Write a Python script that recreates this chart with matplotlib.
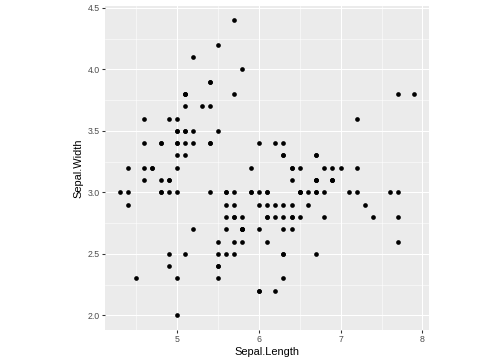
import numpy as np
import matplotlib
matplotlib.use("Agg")
import matplotlib.pyplot as plt
from matplotlib.ticker import MultipleLocator, FixedLocator

# iris: Sepal.Length / Sepal.Width
sepal_length = [
    5.1, 4.9, 4.7, 4.6, 5.0, 5.4, 4.6, 5.0, 4.4, 4.9,
    5.4, 4.8, 4.8, 4.3, 5.8, 5.7, 5.4, 5.1, 5.7, 5.1,
    5.4, 5.1, 4.6, 5.1, 4.8, 5.0, 5.0, 5.2, 5.2, 4.7,
    4.8, 5.4, 5.2, 5.5, 4.9, 5.0, 5.5, 4.9, 4.4, 5.1,
    5.0, 4.5, 4.4, 5.0, 5.1, 4.8, 5.1, 4.6, 5.3, 5.0,
    7.0, 6.4, 6.9, 5.5, 6.5, 5.7, 6.3, 4.9, 6.6, 5.2,
    5.0, 5.9, 6.0, 6.1, 5.6, 6.7, 5.6, 5.8, 6.2, 5.6,
    5.9, 6.1, 6.3, 6.1, 6.4, 6.6, 6.8, 6.7, 6.0, 5.7,
    5.5, 5.5, 5.8, 6.0, 5.4, 6.0, 6.7, 6.3, 5.6, 5.5,
    5.5, 6.1, 5.8, 5.0, 5.6, 5.7, 5.7, 6.2, 5.1, 5.7,
    6.3, 5.8, 7.1, 6.3, 6.5, 7.6, 4.9, 7.3, 6.7, 7.2,
    6.5, 6.4, 6.8, 5.7, 5.8, 6.4, 6.5, 7.7, 7.7, 6.0,
    6.9, 5.6, 7.7, 6.3, 6.7, 7.2, 6.2, 6.1, 6.4, 7.2,
    7.4, 7.9, 6.4, 6.3, 6.1, 7.7, 6.3, 6.4, 6.0, 6.9,
    6.7, 6.9, 5.8, 6.8, 6.7, 6.7, 6.3, 6.5, 6.2, 5.9,
]
sepal_width = [
    3.5, 3.0, 3.2, 3.1, 3.6, 3.9, 3.4, 3.4, 2.9, 3.1,
    3.7, 3.4, 3.0, 3.0, 4.0, 4.4, 3.9, 3.5, 3.8, 3.8,
    3.4, 3.7, 3.6, 3.3, 3.4, 3.0, 3.4, 3.5, 3.4, 3.2,
    3.1, 3.4, 4.1, 4.2, 3.1, 3.2, 3.5, 3.6, 3.0, 3.4,
    3.5, 2.3, 3.2, 3.5, 3.8, 3.0, 3.8, 3.2, 3.7, 3.3,
    3.2, 3.2, 3.1, 2.3, 2.8, 2.8, 3.3, 2.4, 2.9, 2.7,
    2.0, 3.0, 2.2, 2.9, 2.9, 3.1, 3.0, 2.7, 2.2, 2.5,
    3.2, 2.8, 2.5, 2.8, 2.9, 3.0, 2.8, 3.0, 2.9, 2.6,
    2.4, 2.4, 2.7, 2.7, 3.0, 3.4, 3.1, 2.3, 3.0, 2.5,
    2.6, 3.0, 2.6, 2.3, 2.7, 3.0, 2.9, 2.9, 2.5, 2.8,
    3.3, 2.7, 3.0, 2.9, 3.0, 3.0, 2.5, 2.9, 2.5, 3.6,
    3.2, 2.7, 3.0, 2.5, 2.8, 3.2, 3.0, 3.8, 2.6, 2.2,
    3.2, 2.8, 2.8, 2.7, 3.3, 3.2, 2.8, 3.0, 2.8, 3.0,
    2.8, 3.8, 2.8, 2.8, 2.6, 3.0, 3.4, 3.1, 3.0, 3.1,
    3.1, 3.1, 2.7, 3.2, 3.3, 3.0, 2.5, 3.0, 3.4, 3.0,
]
x_ticks = [5, 6, 7, 8]
x_tick_labels = ["5", "6", "7", "8"]
y_ticks = [2.0, 2.5, 3.0, 3.5, 4.0, 4.5]
y_tick_labels = ["2.0", "2.5", "3.0", "3.5", "4.0", "4.5"]

plt.rcParams["font.family"] = ["Liberation Sans", "DejaVu Sans"]

W, H = 504, 360
fig = plt.figure(figsize=(W / 72, H / 72), dpi=72)
# panel in pixels: left 105, right 429, top 5.5, bottom 330
ax = fig.add_axes([105 / W, (H - 330) / H, 324 / W, 324.5 / H])
ax.set_facecolor("#EBEBEB")
for s in ax.spines.values():
    s.set_visible(False)

xs = np.array(sepal_length)
ys = np.array(sepal_width)
xpad = (xs.max() - xs.min()) * 0.05
ypad = (ys.max() - ys.min()) * 0.05
ax.set_xlim(xs.min() - xpad, xs.max() + xpad)
ax.set_ylim(ys.min() - ypad, ys.max() + ypad)

ax.xaxis.set_major_locator(FixedLocator(x_ticks))
ax.set_xticklabels(x_tick_labels)
ax.yaxis.set_major_locator(FixedLocator(y_ticks))
ax.set_yticklabels(y_tick_labels)
ax.xaxis.set_minor_locator(FixedLocator([4.5, 5.5, 6.5, 7.5]))
ax.yaxis.set_minor_locator(FixedLocator([2.25, 2.75, 3.25, 3.75, 4.25]))

ax.grid(which="major", color="white", linewidth=1.07)
ax.grid(which="minor", color="white", linewidth=0.53)
ax.set_axisbelow(True)

ax.tick_params(which="major", length=2.75, width=1.07, color="#333333",
               labelsize=8.8, labelcolor="#4D4D4D", pad=2.2)
ax.tick_params(which="minor", length=0)

ax.scatter(xs, ys, s=22, color="black", linewidths=0, zorder=3)

ax.set_xlabel("Sepal.Length", fontsize=11, color="black", labelpad=3)
ax.set_ylabel("Sepal.Width", fontsize=11, color="black", labelpad=4)

fig.savefig("out.png", dpi=72)
